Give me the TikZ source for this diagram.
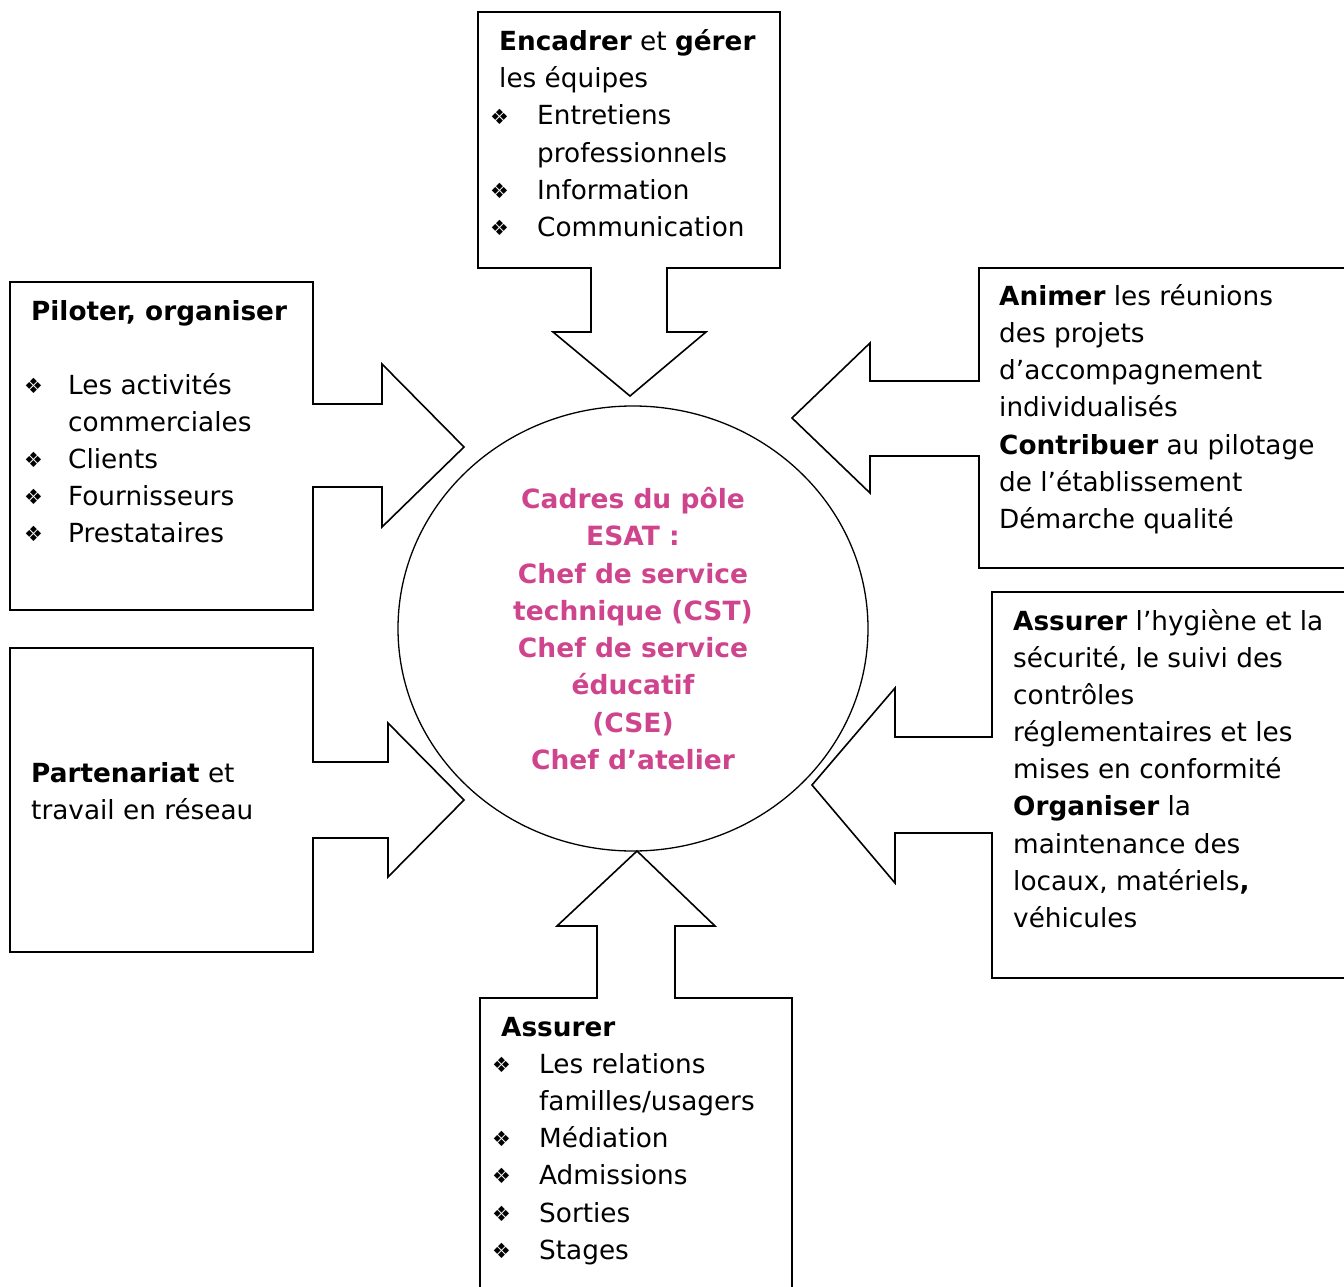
\documentclass[tikz,border=0pt]{standalone}
\usepackage{fontspec}
\setmainfont{DejaVu Sans}
\usetikzlibrary{shapes.geometric}
\definecolor{pinktxt}{RGB}{207,69,141}
\newcommand\bulsym{{\fontsize{21}{21}\selectfont\raisebox{0.5pt}{❖}}}
\newcommand\bl[1]{\makebox[#1][l]{\bulsym}}
\tikzset{
  callout/.style={draw=black, line width=1.6pt, line join=miter, fill=white},
  txt/.style={anchor=base west, inner sep=0pt, font=\fontsize{26.3}{37}\selectfont},
  ctr/.style={anchor=base, inner sep=0pt, text=pinktxt, font=\fontsize{26.5}{37}\selectfont\bfseries},
}
\begin{document}
\begin{tikzpicture}[x=1pt,y=-1pt]
\useasboundingbox (0,0) rectangle (1344,1287);

% callout shapes
\draw[callout] (478,12) -- (780,12) -- (780,268) -- (667,268) -- (667,332) -- (706,332) -- (630,396) -- (553,332) -- (591,332) -- (591,268) -- (478,268) -- cycle;
\draw[callout] (1360,268) -- (979,268) -- (979,381) -- (870,381) -- (870,343) -- (792,418) -- (870,493) -- (870,456) -- (979,456) -- (979,568) -- (1360,568);
\draw[callout] (1360,592) -- (992,592) -- (992,737) -- (895,737) -- (895,688) -- (812,785) -- (895,883) -- (895,833) -- (992,833) -- (992,978) -- (1360,978);
\draw[callout] (480,1300) -- (480,998) -- (597,998) -- (597,926) -- (557,926) -- (637,851) -- (715,926) -- (675,926) -- (675,998) -- (792,998) -- (792,1300);
\draw[callout] (10,282) -- (313,282) -- (313,404) -- (382,404) -- (382,364) -- (464,447) -- (382,527) -- (382,487) -- (313,487) -- (313,610) -- (10,610) -- cycle;
\draw[callout] (10,648) -- (313,648) -- (313,762) -- (388,762) -- (388,723) -- (464,800) -- (388,877) -- (388,838) -- (313,838) -- (313,952) -- (10,952) -- cycle;

% central ellipse
\node[draw=black, line width=1.3pt, ellipse, minimum width=470pt, minimum height=445pt, inner sep=0pt] (c) at (633,628.5) {};

% center text
\node[ctr] (c1) at (633,508) {Cadres du pôle};
\node[ctr] (c2) at (633,545) {ESAT :};
\node[ctr] (c3) at (633,583) {Chef de service};
\node[ctr] (c4) at (633,620) {technique (CST)};
\node[ctr] (c5) at (633,657) {Chef de service};
\node[ctr] (c6) at (633,694) {éducatif};
\node[ctr] (c7) at (633,732) {(CSE)};
\node[ctr] (c8) at (633,769) {Chef d’atelier};

% top box
\node[txt] (t1) at (499,51) {\textbf{Encadrer} et \textbf{gérer}};
\node[txt] (t2) at (499,88) {les équipes};
\node[txt] (t3) at (490,125) {\bl{47pt}Entretiens};
\node[txt] (t4) at (537,162) {professionnels};
\node[txt] (t5) at (490,199) {\bl{47pt}Information};
\node[txt] (t6) at (490,236) {\bl{47pt}Communication};

% left top box
\node[txt] (l1) at (31,320) {\textbf{Piloter, organiser}};
\node[txt] (l2) at (24,394) {\bl{44pt}Les activités};
\node[txt] (l3) at (68,431) {commerciales};
\node[txt] (l4) at (24,468) {\bl{44pt}Clients};
\node[txt] (l5) at (24,505) {\bl{44pt}Fournisseurs};
\node[txt] (l6) at (24,542) {\bl{44pt}Prestataires};

% left bottom box
\node[txt] (p1) at (31,782) {\textbf{Partenariat} et};
\node[txt] (p2) at (31,819) {travail en réseau};

% right top box
\node[txt] (r1) at (999,305) {\textbf{Animer} les réunions};
\node[txt] (r2) at (999,342) {des projets};
\node[txt] (r3) at (999,379) {d’accompagnement};
\node[txt] (r4) at (999,416) {individualisés};
\node[txt] (r5) at (999,454) {\textbf{Contribuer} au pilotage};
\node[txt] (r6) at (999,491) {de l’établissement};
\node[txt] (r7) at (999,528) {Démarche qualité};

% right bottom box
\node[txt] (s1) at (1013,630) {\textbf{Assurer} l’hygiène et la};
\node[txt] (s2) at (1013,667) {sécurité, le suivi des};
\node[txt] (s3) at (1013,704) {contrôles};
\node[txt] (s4) at (1013,741) {réglementaires et les};
\node[txt] (s5) at (1013,778) {mises en conformité};
\node[txt] (s6) at (1013,815) {\textbf{Organiser} la};
\node[txt] (s7) at (1013,853) {maintenance des};
\node[txt] (s8) at (1013,890) {locaux, matériels\textbf{,}};
\node[txt] (s9) at (1013,927) {véhicules};

% bottom box
\node[txt] (b1) at (501,1036) {\textbf{Assurer}};
\node[txt] (b2) at (492,1073) {\bl{47pt}Les relations};
\node[txt] (b3) at (539,1110) {familles/usagers};
\node[txt] (b4) at (492,1147) {\bl{47pt}Médiation};
\node[txt] (b5) at (492,1184) {\bl{47pt}Admissions};
\node[txt] (b6) at (492,1222) {\bl{47pt}Sorties};
\node[txt] (b7) at (492,1259) {\bl{47pt}Stages};
\end{tikzpicture}
\end{document}
